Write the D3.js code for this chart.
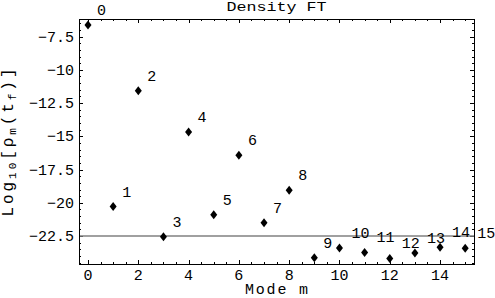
<!DOCTYPE html>
<html lang="en">
<head>
<meta charset="utf-8">
<title>Density FT</title>
<script src="https://cdn.jsdelivr.net/npm/d3@7"></script>
<style>
body { margin: 0; background: #fff; }
text { font-family: "Liberation Mono", "DejaVu Sans Mono", monospace; fill: #000; }
.frame { fill: none; stroke: #000; stroke-width: 1px; }
.tick { stroke: #000; stroke-width: 1px; }
.ref { stroke: #808080; stroke-width: 1.6px; }
.pt { fill: #000; }
</style>
</head>
<body>
<script>
// values
var modes = [0, 1, 2, 3, 4, 5, 6, 7, 8, 9, 10, 11, 12, 13, 14, 15];
var logRho = [-6.64, -20.28, -11.58, -22.55, -14.68, -20.9, -16.43, -21.5,
              -19.05, -24.13, -23.4, -23.73, -24.18, -23.78, -23.35, -23.42];
var pointLabels = ["0", "1", "2", "3", "4", "5", "6", "7",
                   "8", "9", "10", "11", "12", "13", "14", "15"];
var xTicks = [0, 2, 4, 6, 8, 10, 12, 14];
var yTicks = [-7.5, -10, -12.5, -15, -17.5, -20, -22.5];
var yTickLabels = ["\u22127.5", "\u221210", "\u221212.5", "\u221215", "\u221217.5", "\u221220", "\u221222.5"];
var refLevel = [-22.5];

var w = 495, h = 298;
var fL = 79, fR = 474, fT = 19, fB = 264;

var svg = d3.select("body").append("svg")
    .attr("width", w)
    .attr("height", h);

var x = d3.scaleLinear().domain([-0.358, 15.35]).range([fL, fR]);
var y = d3.scaleLinear().domain([-6.18, -24.6]).range([fT, fB]);

// minor ticks every 0.5
var xMinor = d3.range(0, 15.5, 0.5).filter(function(v){ return xTicks.indexOf(v) < 0; });
var yMinor = d3.range(-6.5, -24.6, -0.5).filter(function(v){ return yTicks.indexOf(v) < 0; });

var majLen = 4, minLen = 2;

// frame
svg.append("rect")
    .attr("class", "frame")
    .attr("x", fL + 0.5)
    .attr("y", fT + 0.5)
    .attr("width", fR - fL)
    .attr("height", fB - fT);

var ticks = svg.append("g");

function xTick(v, len) {
    var px = Math.round(x(v)) + 0.5;
    ticks.append("line").attr("class", "tick")
        .attr("x1", px).attr("x2", px)
        .attr("y1", fB).attr("y2", fB - len);
    ticks.append("line").attr("class", "tick")
        .attr("x1", px).attr("x2", px)
        .attr("y1", fT).attr("y2", fT + len);
}
function yTick(v, len) {
    var py = Math.round(y(v)) + 0.5;
    ticks.append("line").attr("class", "tick")
        .attr("x1", fL).attr("x2", fL + len)
        .attr("y1", py).attr("y2", py);
    ticks.append("line").attr("class", "tick")
        .attr("x1", fR).attr("x2", fR - len)
        .attr("y1", py).attr("y2", py);
}
xTicks.forEach(function(v){ xTick(v, majLen); });
xMinor.forEach(function(v){ xTick(v, minLen); });
yTicks.forEach(function(v){ yTick(v, majLen); });
yMinor.forEach(function(v){ yTick(v, minLen); });

// tick labels
svg.selectAll(".xlab").data(xTicks).enter().append("text")
    .attr("class", "xlab")
    .attr("x", function(d){ return x(d); })
    .attr("y", 280)
    .attr("text-anchor", "middle")
    .style("font-size", "15px")
    .text(function(d){ return d; });

svg.selectAll(".ylab").data(yTicks).enter().append("text")
    .attr("class", "ylab")
    .attr("x", fL - 5)
    .attr("y", function(d){ return y(d) + 5; })
    .attr("text-anchor", "end")
    .style("font-size", "15px")
    .text(function(d, i){ return yTickLabels[i]; });

// reference line
svg.selectAll(".ref").data(refLevel).enter().append("line")
    .attr("class", "ref")
    .attr("x1", fL + 1).attr("x2", fR)
    .attr("y1", function(d){ return y(d); })
    .attr("y2", function(d){ return y(d); });

// points (diamonds)
svg.selectAll(".pt").data(modes).enter().append("path")
    .attr("class", "pt")
    .attr("d", function(d, i){
        var cx = x(d), cy = y(logRho[i]);
        return "M" + cx + "," + (cy - 4.5) + "L" + (cx + 3.5) + "," + cy +
               "L" + cx + "," + (cy + 4.5) + "L" + (cx - 3.5) + "," + cy + "Z";
    });

svg.selectAll(".plab").data(modes).enter().append("text")
    .attr("class", "plab")
    .attr("x", function(d){ return x(d) + (pointLabels[d].length > 1 ? 12 : 9); })
    .attr("y", function(d, i){ return y(logRho[i]) - 10; })
    .style("font-size", "15px")
    .text(function(d){ return pointLabels[d]; });

// title
svg.append("text")
    .attr("x", (fL + fR) / 2)
    .attr("y", 11)
    .attr("text-anchor", "middle")
    .attr("textLength", 100)
    .attr("lengthAdjust", "spacingAndGlyphs")
    .style("font-size", "12px")
    .text("Density FT");

// x axis label
svg.append("text")
    .attr("x", (fL + fR) / 2)
    .attr("y", 294)
    .attr("text-anchor", "middle")
    .style("font-size", "15px")
    .attr("textLength", 63)
    .text("Mode m");

// y axis label
var yl = svg.append("text")
    .attr("transform", "translate(13," + ((fT + fB) / 2 + 1) + ") rotate(-90)")
    .attr("text-anchor", "middle")
    .attr("textLength", 148)
    .attr("lengthAdjust", "spacing")
    .style("font-size", "16px");
yl.append("tspan").text("Log");
yl.append("tspan").attr("dy", 3).style("font-size", "11px").text("10");
yl.append("tspan").attr("dy", -3).text("[\u03c1");
yl.append("tspan").attr("dy", 3).style("font-size", "11px").text("m");
yl.append("tspan").attr("dy", -3).text("(t");
yl.append("tspan").attr("dy", 3).style("font-size", "11px").text("f");
yl.append("tspan").attr("dy", -3).text(")]");
</script>
</body>
</html>
